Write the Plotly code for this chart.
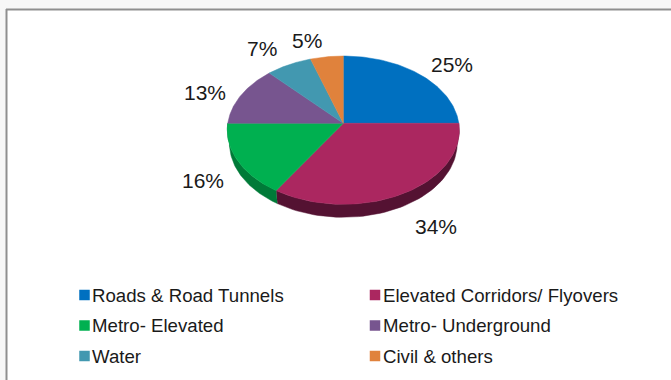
import numpy as np
import plotly.graph_objects as go

# Project share by sector, in percent
categories = ["Roads & Road Tunnels", "Elevated Corridors/ Flyovers", "Metro- Elevated",
              "Metro- Underground", "Water", "Civil & others"]
values = [25, 34, 16, 13, 7, 5]
colors = ["#0070C0", "#AB2760", "#00B050", "#77558F", "#4298B0", "#E0823C"]
rim_colors = ["#00508a", "#541232", "#007a38", "#4f3a60", "#2c6a7c", "#9c5a28"]

# Pie geometry, in page pixels, with a slight perspective towards the viewer
CX, CY = 343.3, 123.3
RX, RY = 115.5, 73.5
TILT = 0.0924
DEPTH = 13.0
BASE_SCALE = 0.982  # the underside recedes, so it is a little narrower


def rim_point(theta):
    """Projected outline point for a clockwise angle measured from twelve o'clock."""
    s, c = np.sin(theta), -np.cos(theta)
    w = 1 - TILT * c
    return CX + RX * s / w, CY + RY * c / w


fig = go.Figure()

fractions = np.cumsum([0] + values) / sum(values)
angles = 2 * np.pi * fractions

# Side wall, drawn first and only where it faces the viewer
for i in range(len(values)):
    lo, hi = max(angles[i], np.pi / 2), min(angles[i + 1], 3 * np.pi / 2)
    if hi <= lo:
        continue
    t = np.linspace(lo, hi, 60)
    x, y = rim_point(t)
    base_x = CX + (x - CX) * BASE_SCALE
    fig.add_trace(go.Scatter(
        x=np.r_[x, base_x[::-1]], y=np.r_[y, y[::-1] + DEPTH],
        fill="toself", fillcolor=rim_colors[i], mode="lines",
        line=dict(color=rim_colors[i], width=0.5), hoverinfo="skip", showlegend=False))

# Top face wedges
for i, name in enumerate(categories):
    t = np.linspace(angles[i], angles[i + 1], 80)
    x, y = rim_point(t)
    fig.add_trace(go.Scatter(
        x=np.r_[CX, x, CX], y=np.r_[CY, y, CY],
        fill="toself", fillcolor=colors[i], mode="lines",
        line=dict(color=colors[i], width=0.5), name=name, hoverinfo="name", showlegend=False))

# Percentage labels around the pie
label_pos = [(451.5, 64), (435.5, 226), (203, 180), (205, 92), (262, 48), (307, 40)]
annotations = [
    dict(x=px, y=py, text=f"{v}%", showarrow=False, xref="x", yref="y",
         font=dict(family="Liberation Sans", size=21, color="#1a1a1a"))
    for (px, py), v in zip(label_pos, values)
]

# Two-column key under the pie
key_x = [84.5, 375]
key_y = [295, 325.5, 356]
swatch_x, swatch_y = [], []
for i, name in enumerate(categories):
    kx, ky = key_x[i % 2], key_y[i // 2]
    swatch_x.append(kx)
    swatch_y.append(ky)
    annotations.append(dict(x=kx + 5.5, y=ky, text=name, showarrow=False, xanchor="left",
                            xref="x", yref="y",
                            font=dict(family="Liberation Sans", size=18.65, color="#1a1a1a")))
fig.add_trace(go.Scatter(x=swatch_x, y=swatch_y, mode="markers", showlegend=False, hoverinfo="skip",
                         marker=dict(symbol="square", size=10.5, color=colors, line=dict(width=0))))

# Page backdrop and chart frame, which runs off the right and bottom edges
shapes = [
    dict(type="rect", x0=0, x1=671, y0=0, y1=9, fillcolor="#f7f7f7", line_width=0, layer="below"),
    dict(type="rect", x0=0, x1=6, y0=0, y1=380, fillcolor="#f7f7f7", line_width=0, layer="below"),
    dict(type="line", x0=6, x1=671, y0=9.5, y1=9.5, line=dict(color="#8f8f8f", width=2)),
    dict(type="line", x0=6.5, x1=6.5, y0=9, y1=380, line=dict(color="#8f8f8f", width=2)),
]

axis = dict(visible=False, fixedrange=True)
fig.update_layout(
    width=671, height=380, margin=dict(l=0, r=0, t=0, b=0, pad=0),
    paper_bgcolor="white", plot_bgcolor="white", showlegend=False,
    xaxis=dict(range=[0, 671], **axis),
    yaxis=dict(range=[380, 0], **axis),
    annotations=annotations, shapes=shapes,
)
fig.write_html("out.html", config=dict(displayModeBar=False))
